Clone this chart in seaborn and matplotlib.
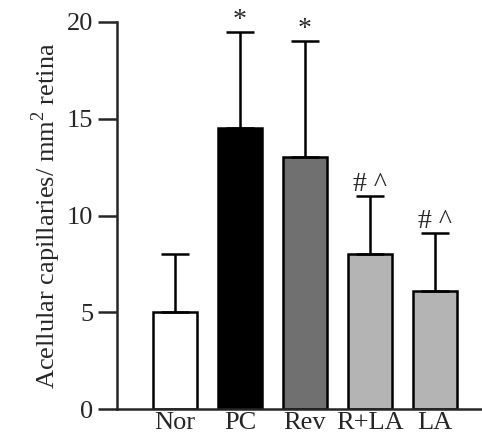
import matplotlib
matplotlib.use("Agg")
import matplotlib.pyplot as plt
import seaborn as sns
import pandas as pd

categories = ["Nor", "PC", "Rev", "R+LA", "LA"]
means = [5.0, 14.5, 13.0, 8.0, 6.1]
errors = [3.0, 5.0, 6.0, 3.0, 3.0]
marks = ["", "*", "*", "# ^", "# ^"]
colors = ["#ffffff", "#000000", "#707070", "#b4b4b4", "#b4b4b4"]
yticks = [0, 5, 10, 15, 20]

sns.set_style("ticks")
plt.rcParams["font.family"] = ["Liberation Serif", "DejaVu Serif"]
plt.rcParams["mathtext.fontset"] = "custom"
plt.rcParams["mathtext.rm"] = "Liberation Serif"

df = pd.DataFrame({"group": categories, "value": means})

fig = plt.figure(figsize=(4.82, 4.37), dpi=100)
ax = fig.add_axes([0.2427, 0.064, 0.7573, 0.8857])

sns.barplot(data=df, x="group", y="value", hue="group", palette=colors,
            width=0.68, edgecolor="black", linewidth=1.8, legend=False, ax=ax,
            errorbar=None, saturation=1)

xs = list(range(len(categories)))
ax.errorbar(xs, means, yerr=[[0] * len(errors), errors], fmt="none",
            ecolor="black", elinewidth=1.8, capsize=10, capthick=1.8, zorder=1)

for x, m, e, t in zip(xs, means, errors, marks):
    if t:
        ax.text(x, m + e - 0.05, t, ha="center", va="bottom", fontsize=20,
                clip_on=False)

ax.set_xlim(-0.892, 4.723)
ax.set_ylim(0, 20)
ax.set_yticks(yticks)
ax.set_xlabel("")
ax.set_ylabel("Acellular capillaries/ mm$^{2}$ retina", fontsize=19, labelpad=3)
ax.tick_params(axis="y", length=14, width=1.8, labelsize=19, pad=3)
ax.tick_params(axis="x", length=0, labelsize=19, pad=2)
for s in ["top", "right"]:
    ax.spines[s].set_visible(False)
for s in ["left", "bottom"]:
    ax.spines[s].set_linewidth(1.8)

fig.savefig("out.png", dpi=100)
